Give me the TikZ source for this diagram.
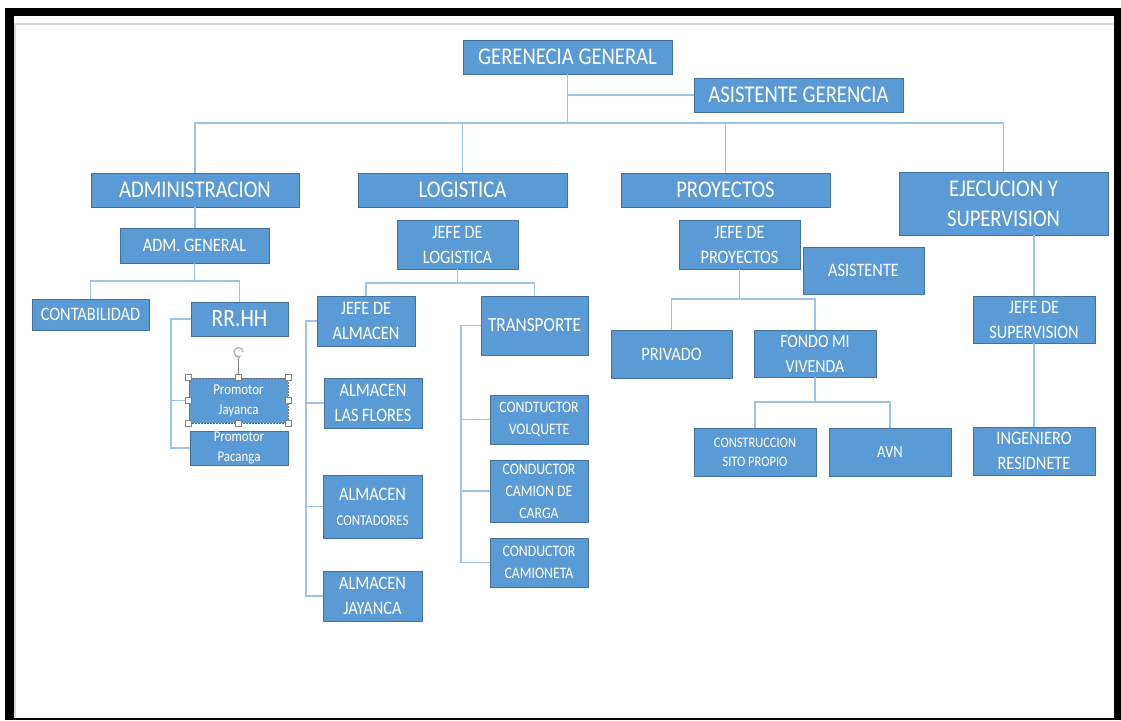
\documentclass[tikz,border=0pt]{standalone}
\usepackage{fontspec}
\setmainfont[FakeStretch=0.86]{Carlito}
\definecolor{boxBlue}{HTML}{5B9BD5}
\definecolor{boxEdge}{HTML}{41719C}
\definecolor{lineBlue}{HTML}{9DC3E6}
\definecolor{frameGray}{HTML}{D9D9D9}
\begin{document}
\begin{tikzpicture}[x=1pt,y=-1pt]
  \tikzstyle{box}=[draw=boxEdge,fill=boxBlue,text=white,inner sep=0pt,align=center,line width=0.8pt]
  \tikzstyle{link}=[draw=lineBlue,line width=1.6pt]
  \tikzstyle{f14}=[font=\fontsize{14.5}{19}\selectfont]
  \tikzstyle{f15}=[font=\fontsize{15}{20}\selectfont]
  \tikzstyle{f16}=[font=\fontsize{16}{22}\selectfont]
  \tikzstyle{f17}=[font=\fontsize{17}{23}\selectfont]
  \tikzstyle{f18}=[font=\fontsize{18.5}{25}\selectfont]
  \tikzstyle{f19}=[font=\fontsize{19}{25}\selectfont]
  \tikzstyle{f20}=[font=\fontsize{20}{26}\selectfont]
  \tikzstyle{f24}=[font=\fontsize{24}{30}\selectfont]
  \tikzstyle{f25}=[font=\fontsize{25}{31}\selectfont]
  \tikzstyle{handle}=[draw=gray,fill=white,minimum size=6,inner sep=0pt,line width=0.5pt]

  % frame
  \useasboundingbox (0,0) rectangle (1121,720);
  \fill[black] (5,8) rectangle (1121,720);
  \fill[white] (14,16) rectangle (1114,718);
  \draw[frameGray,line width=1.5pt] (15,718) -- (15,24) -- (1113,24);

  \begin{scope}
   \node[box,f24,minimum width=209,minimum height=34](gerencia) at (567.5,57) {GERENECIA GENERAL};
   \node[box,f24,minimum width=209,minimum height=34](asistGer) at (798.5,95) {ASISTENTE GERENCIA};
   \coordinate (bus) at (567.5,123);
   \draw[link] (gerencia.south) -- (bus);
   \draw[link] (gerencia.south |- asistGer.west) -- (asistGer.west);

   \node[box,f24,minimum width=208,minimum height=34](admin) at (195,190) {ADMINISTRACION};
   \node[box,f24,minimum width=209,minimum height=34](logistica) at (462.5,190) {LOGISTICA};
   \node[box,f24,minimum width=209,minimum height=34](proyectos) at (725.5,190) {PROYECTOS};
   \node[box,f24,minimum width=209,minimum height=63](ejecucion) at (1003.5,203.5) {EJECUCION Y\\SUPERVISION};
   \draw[link] (admin.north) |- (bus) -| (ejecucion.north);
   \draw[link] (logistica.north) -- (logistica.north |- bus);
   \draw[link] (proyectos.north) -- (proyectos.north |- bus);

   % administracion
   \node[box,f19,minimum width=149,minimum height=35](admGeneral) at (194.5,245.5) {ADM. GENERAL};
   \draw[link] (admin.south) -- (admin.south |- admGeneral.north);
   \node[box,f19,minimum width=117,minimum height=31](contabilidad) at (90.5,314.5) {CONTABILIDAD};
   \node[box,f25,minimum width=97,minimum height=34](rrhh) at (239.5,319) {RR.HH};
   \coordinate (admBus) at (194.5,281);
   \draw[link] (admGeneral.south) -- (admBus);
   \draw[link] (contabilidad.north) |- (admBus) -| (rrhh.north);

   \node[box,f15,minimum width=99,minimum height=45,draw=gray!80!black,dash pattern=on 2pt off 1pt](promJayanca) at (238.5,400.5) {Promotor\\Jayanca};
   \node[box,f15,minimum width=98,minimum height=34](promPacanga) at (239,448) {Promotor\\Pacanga};
   \coordinate (rrhhV) at (171,448);
   \draw[link] (rrhh.west) -| (rrhhV) -- (promPacanga.west);
   \draw[link] (rrhhV |- promJayanca.west) -- (promJayanca.west);
   % selection handles
   \coordinate (rot) at (238.5,352);
   \draw[gray,line width=0.6pt] (promJayanca.north) -- (238.5,358);
   \draw[gray!60,line width=1.2pt,->,>=stealth] (243,352) arc[start angle=0,end angle=-300,radius=4.5];
   \foreach \a [count=\i] in {north west,north,north east,east,south east,south,south west,west}
     \node[handle](h\i) at (promJayanca.\a) {};

   % logistica
   \node[box,f19,minimum width=121,minimum height=49](jefeLog) at (457.5,244.5) {JEFE DE\\LOGISTICA};
   \node[box,f19,minimum width=98,minimum height=50](jefeAlm) at (366,321) {JEFE DE\\ALMACEN};
   \node[box,f20,minimum width=107,minimum height=59](transporte) at (534.5,325.5) {TRANSPORTE};
   \coordinate (logBus) at (457.5,283);
   \draw[link] (jefeLog.south) -- (logBus);
   \draw[link] (jefeAlm.north) |- (logBus) -| (transporte.north);

   \node[box,f19,minimum width=98,minimum height=50](almFlores) at (373,403) {ALMACEN\\LAS FLORES};
   \node[box,f19,minimum width=99,minimum height=63](almContad) at (372.5,506.5) {ALMACEN\\{\fontsize{15}{20}\selectfont CONTADORES}};
   \node[box,f19,minimum width=99,minimum height=50](almJayanca) at (372.5,596) {ALMACEN\\JAYANCA};
   \coordinate (almV) at (306,596);
   \draw[link] (jefeAlm.west) -| (almV) -- (almJayanca.west);
   \draw[link] (almV |- almFlores.west) -- (almFlores.west);
   \draw[link] (almV |- almContad.west) -- (almContad.west);

   \node[box,f16,minimum width=98,minimum height=49](condVolq) at (539,419.5) {CONDTUCTOR\\VOLQUETE};
   \node[box,f16,minimum width=98,minimum height=62](condCarga) at (539,491) {CONDUCTOR\\CAMION DE\\CARGA};
   \node[box,f16,minimum width=98,minimum height=49](condCamta) at (539,562.5) {CONDUCTOR\\CAMIONETA};
   \coordinate (traV) at (461,562.5);
   \draw[link] (transporte.west) -| (traV) -- (condCamta.west);
   \draw[link] (traV |- condVolq.west) -- (condVolq.west);
   \draw[link] (traV |- condCarga.west) -- (condCarga.west);

   % proyectos
   \node[box,f19,minimum width=121,minimum height=49](jefePro) at (739.5,244.5) {JEFE DE\\PROYECTOS};
   \node[box,f19,minimum width=121,minimum height=47](asistente) at (863.5,270.5) {ASISTENTE};
   \node[box,f19,minimum width=121,minimum height=48](privado) at (671.5,354) {PRIVADO};
   \node[box,f18,minimum width=122,minimum height=47](fondo) at (815,353.5) {FONDO MI\\VIVENDA};
   \coordinate (proBus) at (739.5,299);
   \draw[link] (jefePro.south) -- (proBus);
   \draw[link] (privado.north) |- (proBus) -| (fondo.north);

   \node[box,f14,minimum width=122,minimum height=48](construc) at (755,452) {CONSTRUCCION\\SITO PROPIO};
   \node[box,f17,minimum width=122,minimum height=48](avn) at (890,452) {AVN};
   \coordinate (fondoBus) at (815,402);
   \draw[link] (fondo.south) -- (fondoBus);
   \draw[link] (construc.north) |- (fondoBus) -| (avn.north);

   % ejecucion
   \node[box,f19,minimum width=122,minimum height=47](jefeSup) at (1034,319.5) {JEFE DE\\SUPERVISION};
   \node[box,f19,minimum width=122,minimum height=48](ingeniero) at (1034,451) {INGENIERO\\RESIDNETE};
   \draw[link] (ejecucion.south -| jefeSup.north) -- (jefeSup.north);
   \draw[link] (jefeSup.south) -- (ingeniero.north);
  \end{scope}
\end{tikzpicture}
\end{document}
